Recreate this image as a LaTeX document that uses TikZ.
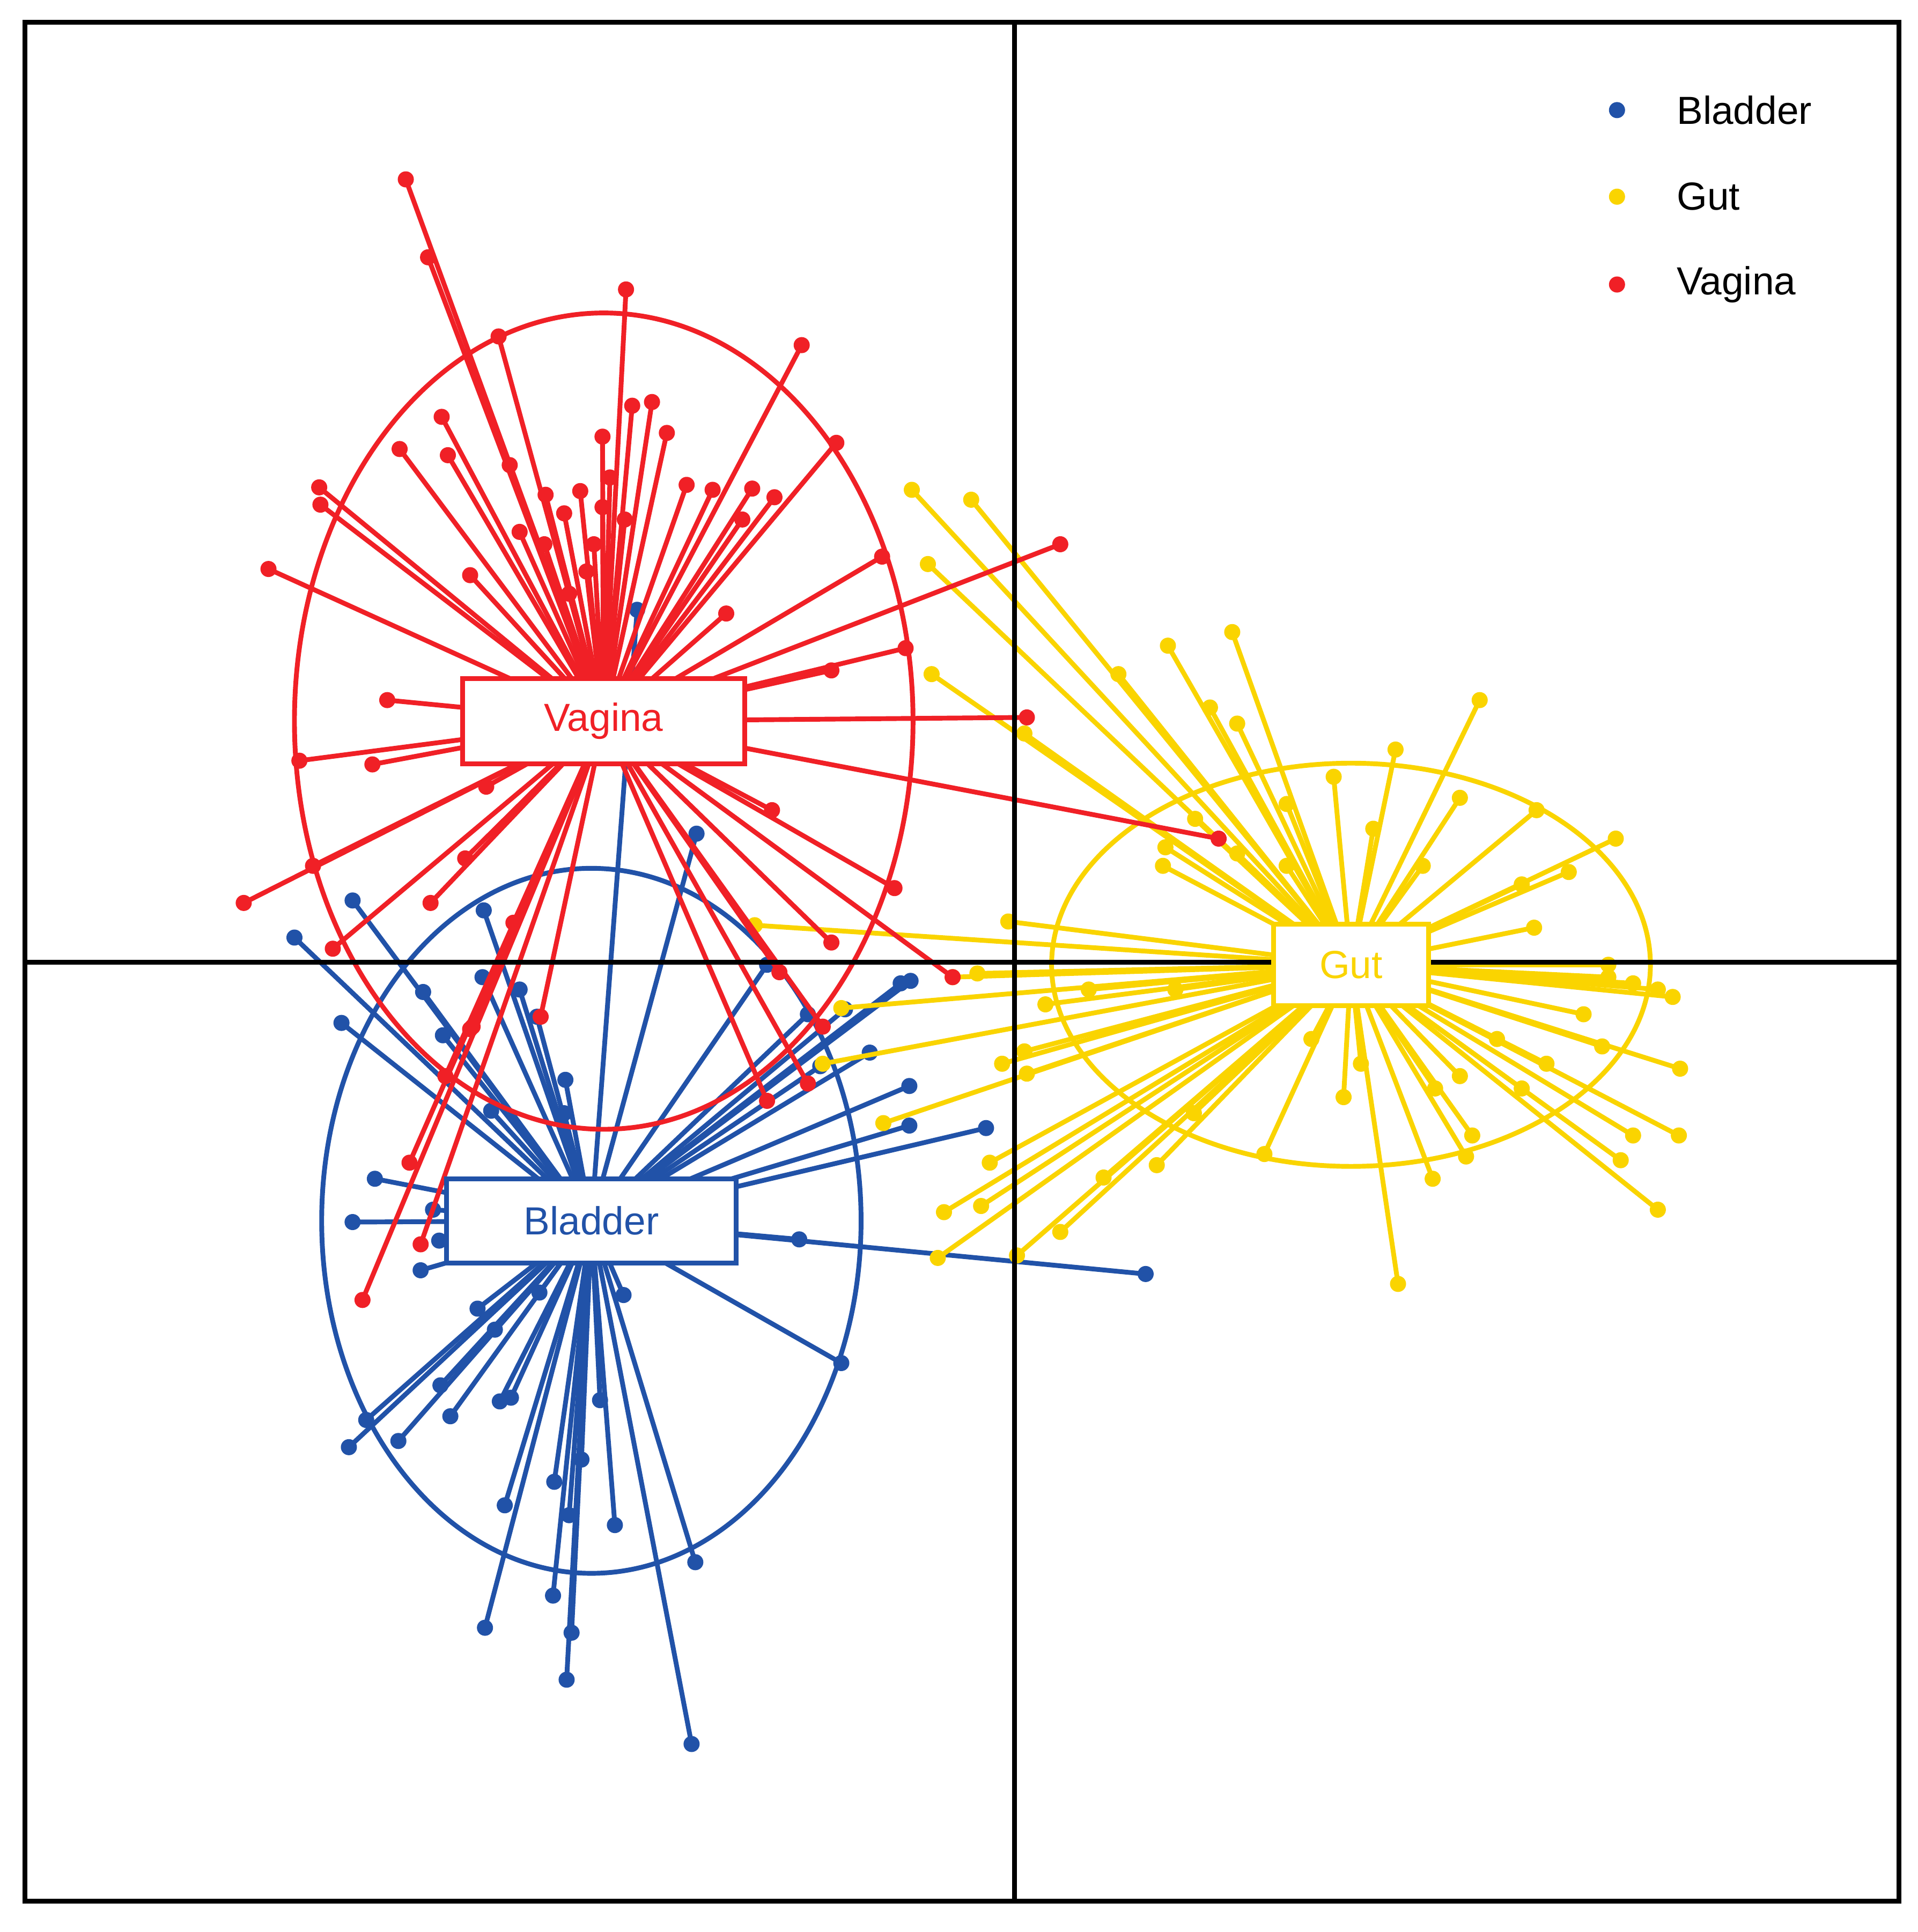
\documentclass[tikz,border=0pt]{standalone}
\usepackage{fontspec}
\setmainfont{Liberation Sans}
\definecolor{cB}{RGB}{33,82,168}
\definecolor{cG}{RGB}{250,212,0}
\definecolor{cV}{RGB}{240,32,38}
\tikzset{
  spoke/.style={line width=1.1pt},
  pt/.style={circle,inner sep=0pt,minimum size=0.13cm},
  lab/.style={draw=#1,text=#1,fill=white,line width=1.1pt,font=\fontsize{9}{10}\selectfont},
  legtxt/.style={anchor=west,font=\fontsize{9}{10}\selectfont}
}
\begin{document}
\begin{tikzpicture}[x=0.01cm,y=-0.01cm]
\useasboundingbox (0,0) rectangle (1550,1562);
\coordinate (cv) at (488,583);
\coordinate (cb) at (478,987);
\coordinate (cg) at (1092,780);
% bladder
\draw[cB,spoke] (cb) ellipse [x radius=218,y radius=285];
\foreach \p in {(515,493),(563,674),(285,728),(391,736),(238,758),(342,802),(276,827),(358,837),(434,822),(457,873),(397,898),(456,900),(736,793),(728,795),(683,816),(703,851),(663,862),(735,878),(735,910),(797,912),(303,953),(285,988),(350,978),(355,1003),(340,1027),(646,1002),(926,1030),(680,1102),(386,1058),(400,1075),(436,1045),(504,1047),(296,1148),(282,1170),(322,1165),(356,1120),(364,1145),(404,1133),(413,1130),(485,1132),(408,1217),(448,1198),(460,1225),(470,1180),(497,1233),(562,1263),(392,1316),(447,1290),(462,1320),(458,1358),(559,1410),(620,780),(653,820),(390,790),(420,800)}
 {\draw[cB,spoke] (cb) -- \p node[pt,fill=cB]{};}
% gut
\draw[cG,spoke] (cg) ellipse [x radius=242,y radius=163];
\foreach \p in {(737,396),(785,404),(750,456),(753,545),(904,545),(944,522),(996,511),(1196,566),(978,572),(1000,585),(828,593),(1128,606),(1078,628),(1040,650),(1242,655),(1306,678),(966,662),(942,685),(940,700),(1000,690),(1180,645),(1268,705),(1240,750),(1300,780),(1340,800),(1352,806),(1358,864),(1357,918),(1340,978),(1310,938),(1320,918),(1295,846),(1280,820),(815,745),(790,787),(770,790),(845,812),(828,850),(810,860),(830,868),(714,908),(800,940),(763,980),(793,975),(758,1017),(822,1015),(857,996),(892,952),(935,942),(965,900),(1022,933),(1086,887),(1130,1038),(1158,953),(1185,935),(1190,918),(1100,860),(1060,840),(1160,880),(1230,880),(680,815),(665,860),(610,748),(1150,700),(1110,670),(1230,715),(1210,840),(1250,860),(1300,790),(1320,795),(880,800),(1180,870),(1040,700),(950,800)}
 {\draw[cG,spoke] (cg) -- \p node[pt,fill=cG]{};}
% vagina
\draw[cV,spoke] (cv) ellipse [x radius=250,y radius=330];
\foreach \p in {(328,145),(346,208),(403,272),(506,234),(648,279),(357,337),(323,363),(362,368),(412,376),(487,353),(511,328),(527,325),(539,350),(676,358),(258,394),(259,408),(441,400),(456,415),(469,397),(493,386),(505,420),(555,392),(576,396),(608,395),(626,402),(217,460),(380,465),(474,462),(857,440),(713,450),(587,496),(732,524),(672,542),(313,566),(830,580),(242,615),(301,618),(393,636),(624,655),(985,678),(253,700),(376,694),(197,730),(348,730),(723,718),(269,767),(672,762),(770,790),(630,786),(437,822),(382,830),(665,830),(653,876),(620,890),(331,940),(340,1006),(293,1051),(415,746),(460,480),(487,410),(480,440),(600,420),(440,440),(420,430),(380,832),(360,870)}
 {\draw[cV,spoke] (cv) -- \p node[pt,fill=cV]{};}
% axes and frame
\draw[line width=1.1pt] (820,18) -- (820,1537) (20,778) -- (1535,778);
\draw[line width=1.1pt] (20,18) rectangle (1535,1537);
% labels
\node[lab=cV,minimum width=2.28cm,minimum height=0.69cm] (lv) at (cv) {Vagina};
\node[lab=cB,minimum width=2.34cm,minimum height=0.68cm] (lb) at (cb) {Bladder};
\node[lab=cG,minimum width=1.25cm,minimum height=0.66cm] (lg) at (cg) {Gut};
% legend
\node[pt,fill=cB] (l1) at (1307,89) {};
\node[pt,fill=cG] (l2) at (1307,159) {};
\node[pt,fill=cV] (l3) at (1307,230) {};
\node[legtxt] (t1) at (1343,89) {Bladder};
\node[legtxt] (t2) at (1343,159) {Gut};
\node[legtxt] (t3) at (1343,230) {Vagina};
\end{tikzpicture}
\end{document}
